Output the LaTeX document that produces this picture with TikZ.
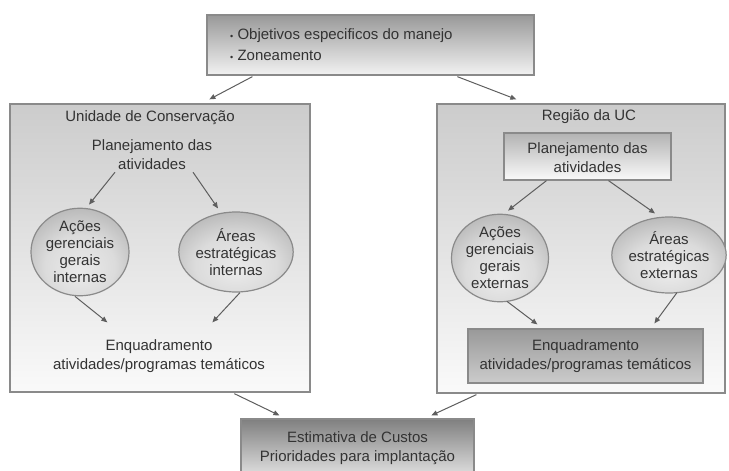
\documentclass[tikz,border=0pt]{standalone}
\usepackage{fontspec}
\setmainfont{Liberation Sans}
\usetikzlibrary{shapes.geometric,arrows.meta,calc}
\pgfdeclareradialshading{ellshade}{\pgfpoint{0bp}{-12bp}}{%
  color(0bp)=(black!8); color(18bp)=(black!14); color(34bp)=(black!30); color(46bp)=(black!45); color(60bp)=(black!50)}
\definecolor{txt}{HTML}{333333}
\definecolor{edge}{HTML}{8A8A8A}
\definecolor{arr}{HTML}{5E5E5E}
\newcommand{\bul}{{\fontsize{9}{9}\selectfont\textbullet}\ }
\tikzset{
  every node/.style={font=\fontsize{15}{19}\selectfont, text=txt, align=center, inner sep=0pt},
  bigbox/.style={draw=edge, line width=1.3pt, top color=black!20, bottom color=black!2, rectangle},
  topbox/.style={draw=edge, line width=1.3pt, top color=black!40, bottom color=black!5, rectangle},
  planbox/.style={draw=edge, line width=1.2pt, top color=black!30, bottom color=black!2, rectangle},
  enqbox/.style={draw=edge, line width=1.2pt, top color=black!40, bottom color=black!20, rectangle},
  estbox/.style={draw=edge, line width=1.2pt, top color=black!50, bottom color=black!12, rectangle},
  ell/.style={ellipse, draw=edge, line width=1.2pt, shading=ellshade, font=\fontsize{15}{17}\selectfont},
  conn/.style={draw=arr, line width=1pt, -{Triangle[length=6pt,width=5pt]}, arr},
}
\begin{document}
\begin{tikzpicture}[x=1pt,y=-1pt]
\useasboundingbox (0,0) rectangle (729,471);
% main boxes
\node[topbox, minimum width=327pt, minimum height=60pt] (top) at (370.5,45) {};
\node[anchor=west, align=left, font=\fontsize{15}{21}\selectfont] (toptxt) at (230,45) {\bul Objetivos especificos do manejo\\\bul Zoneamento};
\node[bigbox, minimum width=300pt, minimum height=288pt] (L) at (160,248) {};
\node[bigbox, minimum width=288pt, minimum height=289pt] (R) at (581,248.5) {};
\node[estbox, minimum width=233pt, minimum height=57pt] (E) at (357.5,447.5) {};
\node (Etxt) at (357.5,448) {Estimativa de Custos\\Prioridades para implantação};
% left content
\node (Ltitle) at (150,118) {Unidade de Conservação};
\node (Lplan) at (152,155) {Planejamento das\\atividades};
\node[ell, minimum width=98pt, minimum height=80pt] (Le1) at (80,252) {Ações\\gerenciais\\gerais\\internas};
\node[ell, minimum width=106pt, minimum height=80pt] (Le2) at (236,252) {Áreas\\estratégicas\\internas};
\node (Lenq) at (159,356) {Enquadramento\\atividades/programas temáticos};
% right content
\node (Rtitle) at (589,117) {Região da UC};
\node[planbox, minimum width=167pt, minimum height=47pt] (Rplan) at (587.5,156.5) {};
\node (Rplantxt) at (587.5,158) {Planejamento das\\atividades};
\node[ell, minimum width=97pt, minimum height=80pt] (Re1) at (500,258) {Ações\\gerenciais\\gerais\\externas};
\node[ell, minimum width=108pt, minimum height=76pt] (Re2) at (669,255) {Áreas\\estratégicas\\externas};
\node[enqbox, minimum width=235pt, minimum height=54pt] (Renq) at (585.5,356) {};
\node (Renqtxt) at (585.5,356) {Enquadramento\\atividades/programas temáticos};
% connectors
\draw[conn] ($(top.south west)+(46,1)$) -- ($(L.north west)+(200,-4)$);
\draw[conn] ($(top.south west)+(251,1)$) -- ($(R.north west)+(80,-4)$);
\draw[conn] ($(Lplan.south)+(-37,2)$) -- ($(Le1.north)+(9,-3)$);
\draw[conn] ($(Lplan.south)+(41,2)$) -- ($(Le2.north)+(-18,-3)$);
\draw[conn] ($(Le1.south)+(-5,0)$) -- ($(L.north west)+(98,219)$);
\draw[conn] ($(Le2.south)+(4,0)$) -- ($(L.north west)+(203,219)$);
\draw[conn] ($(Rplan.south)+(-41,0)$) -- ($(Re1.north)+(8,-3)$);
\draw[conn] ($(Rplan.south)+(21,0)$) -- ($(Re2.north)+(-14,-3)$);
\draw[conn] ($(Re1.south)+(7,-1)$) -- ($(Renq.north west)+(70,-4)$);
\draw[conn] ($(Re2.south)+(8,-1)$) -- ($(Renq.north west)+(187,-5)$);
\draw[conn] ($(L.south west)+(225,1)$) -- ($(E.north west)+(39,-3)$);
\draw[conn] ($(R.south west)+(40,1)$) -- ($(E.north west)+(191,-3)$);
\end{tikzpicture}
\end{document}
